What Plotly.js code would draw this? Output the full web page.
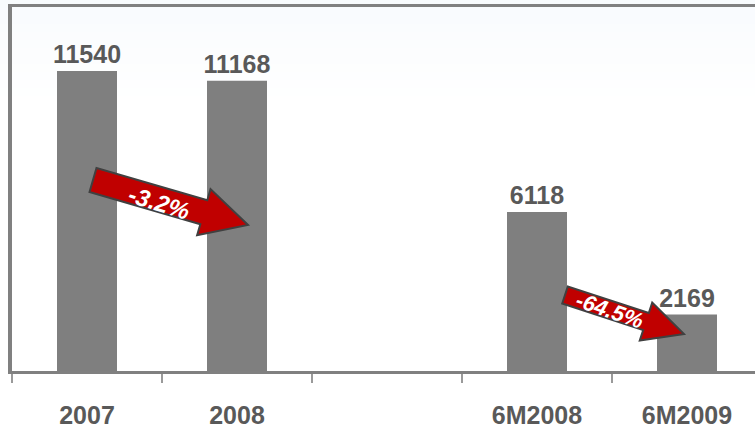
<!DOCTYPE html>
<html>
<head>
<meta charset="utf-8">
<script src="https://cdn.plot.ly/plotly-3.0.1.min.js"></script>
<style>
  html, body { margin: 0; padding: 0; background: #ffffff; }
  #chart { width: 755px; height: 429px; }
</style>
</head>
<body>
<div id="chart"></div>
<script>
// Periods shown on the axis (the blank slot separates full years from half-years)
const categories = ['2007', '2008', ' ', '6M2008', '6M2009'];
const volumes = [11540, 11168, null, 6118, 2169];
// Period-over-period changes drawn as block arrows
const changeLabels = ['-3.2%', '-64.5%'];

const W = 755, H = 429;
const M = { l: 12, r: 0, t: 7, b: 58 };
const plotW = W - M.l - M.r, plotH = H - M.t - M.b;
const catPx = 150;                       // width of one category slot
const xRange = [-0.5, -0.5 + plotW / catPx];
const yRange = [0, 14000];

// pixel -> paper coordinates
const px2paperX = p => (p - M.l) / plotW;
const px2paperY = p => (H - M.b - p) / plotH;

// Block arrow outline in pixel space, returned as a paper-referenced SVG path
function blockArrow(tail, tip, shaft, headW, headL) {
  const dx = tip[0] - tail[0], dy = tip[1] - tail[1];
  const len = Math.hypot(dx, dy);
  const ux = dx / len, uy = dy / len;     // along the arrow
  const nx = -uy, ny = ux;                // normal
  const bx = tip[0] - ux * headL, by = tip[1] - uy * headL;
  const pts = [
    [tail[0] + nx * shaft / 2, tail[1] + ny * shaft / 2],
    [bx + nx * shaft / 2, by + ny * shaft / 2],
    [bx + nx * headW / 2, by + ny * headW / 2],
    tip,
    [bx - nx * headW / 2, by - ny * headW / 2],
    [bx - nx * shaft / 2, by - ny * shaft / 2],
    [tail[0] - nx * shaft / 2, tail[1] - ny * shaft / 2]
  ];
  return 'M' + pts.map(p => px2paperX(p[0]).toFixed(5) + ',' + px2paperY(p[1]).toFixed(5)).join('L') + 'Z';
}

const arrowStyles = [
  { tail: [93, 180], tip: [248, 225], shaft: 25, headW: 48, headL: 46, text: [159, 202], angle: 17, size: 24 },
  { tail: [565, 295], tip: [684, 334], shaft: 18, headW: 40, headL: 40, text: [610, 310], angle: 19, size: 22 }
];

const shapes = [];
// faint blue haze along the top of the figure
for (let i = 0; i < 12; i++) {
  const y0 = i * 8, y1 = (i + 1) * 8;
  shapes.push({
    type: 'rect', xref: 'paper', yref: 'paper', layer: 'below',
    x0: px2paperX(0), x1: px2paperX(W), y0: px2paperY(y1), y1: px2paperY(y0),
    fillcolor: 'rgba(225,236,248,' + (0.22 * (1 - i / 12)).toFixed(3) + ')',
    line: { width: 0 }
  });
}
const annotations = [];
arrowStyles.forEach((a, i) => {
  shapes.push({
    type: 'path', xref: 'paper', yref: 'paper', layer: 'above',
    path: blockArrow(a.tail, a.tip, a.shaft, a.headW, a.headL),
    fillcolor: '#C00000', line: { color: '#404040', width: 2 }
  });
  annotations.push({
    xref: 'paper', yref: 'paper', x: px2paperX(a.text[0]), y: px2paperY(a.text[1]),
    text: '<i>' + changeLabels[i] + '</i>', showarrow: false, textangle: a.angle,
    xanchor: 'center', yanchor: 'middle',
    font: { family: 'Liberation Sans, Arial, sans-serif', size: a.size, color: '#ffffff', weight: 'bold' }
  });
});

const trace = {
  type: 'bar',
  x: categories,
  y: volumes,
  width: 0.4,
  marker: { color: '#7F7F7F', line: { width: 0 } },
  text: volumes.map(v => v === null ? '' : String(v)),
  textposition: 'outside',
  constraintext: 'none',
  cliponaxis: false,
  textfont: { family: 'Liberation Sans, Arial, sans-serif', size: 25, color: '#595959', weight: 'bold' },
  hoverinfo: 'none'
};

const layout = {
  width: W, height: H,
  margin: M,
  paper_bgcolor: '#ffffff',
  plot_bgcolor: 'rgba(0,0,0,0)',
  showlegend: false,
  xaxis: {
    type: 'category', categoryorder: 'array', categoryarray: categories,
    range: xRange, fixedrange: true,
    showline: true, linecolor: '#808080', linewidth: 3, mirror: true,
    ticks: 'outside', tickson: 'boundaries', ticklen: 9, tickwidth: 1.5, tickcolor: '#9a9a9a',
    ticklabelstandoff: 20,
    tickfont: { family: 'Liberation Sans, Arial, sans-serif', size: 25, color: '#595959', weight: 'bold' },
    showgrid: false, zeroline: false
  },
  yaxis: {
    range: yRange, fixedrange: true,
    showline: true, linecolor: '#808080', linewidth: 4,
    showticklabels: false, ticks: '', showgrid: false, zeroline: false
  },
  shapes: shapes,
  annotations: annotations
};

Plotly.newPlot('chart', [trace], layout, { staticPlot: true, displayModeBar: false });
</script>
</body>
</html>
